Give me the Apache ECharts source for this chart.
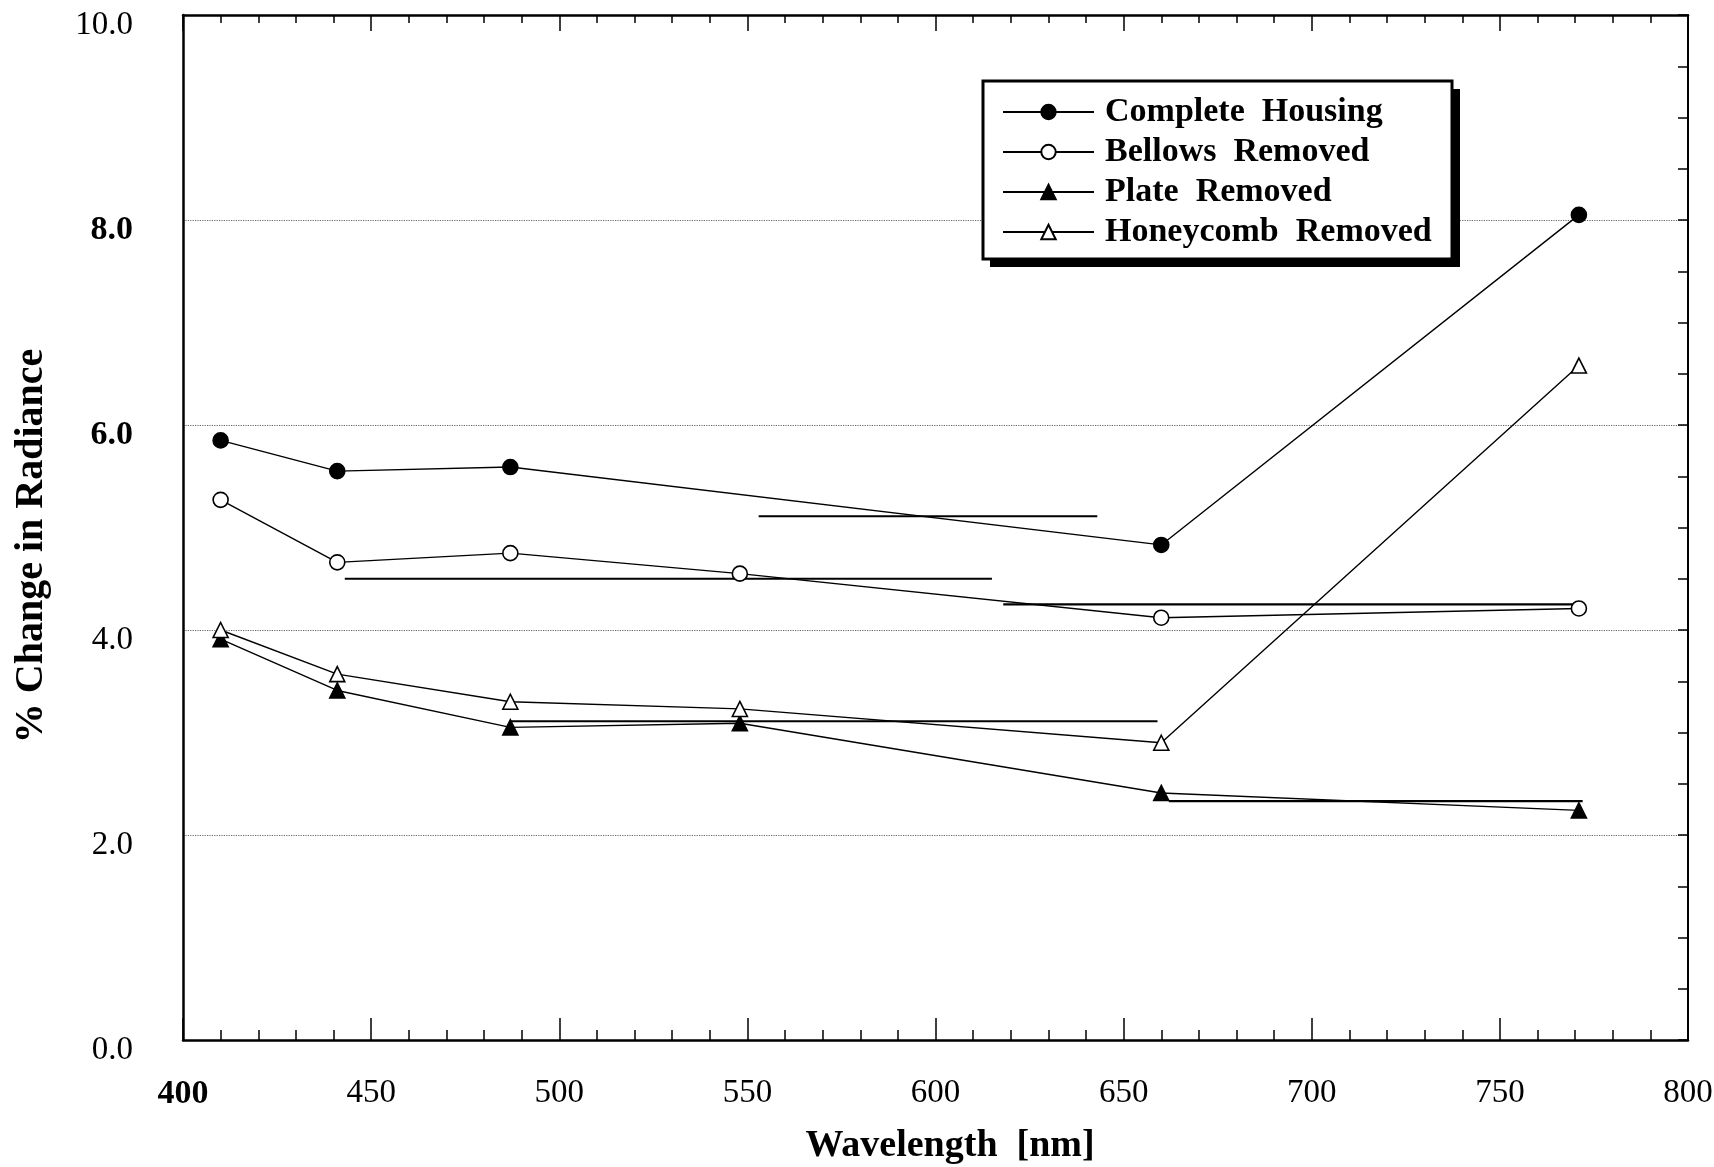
<!DOCTYPE html>
<html><head><meta charset="utf-8">
<script src="https://cdn.jsdelivr.net/npm/echarts@6/dist/echarts.min.js"></script>
<style>html,body{margin:0;padding:0;background:#fff}#c{width:1714px;height:1167px}</style>
</head><body><div id="c"></div>
<script>
const seriesNames = ['Complete Housing', 'Bellows Removed', 'Plate Removed', 'Honeycomb Removed'];
const completeHousing = [[410, 5.85], [441, 5.55], [487, 5.59], [660, 4.83], [771, 8.05]];
const bellowsRemoved = [[410, 5.27], [441, 4.66], [487, 4.75], [548, 4.55], [660, 4.12], [771, 4.21]];
const plateRemoved = [[410, 3.91], [441, 3.41], [487, 3.05], [548, 3.09], [660, 2.41], [771, 2.24]];
const honeycombRemoved = [[410, 4.00], [441, 3.57], [487, 3.30], [548, 3.23], [660, 2.90], [771, 6.58]];
// horizontal strokes visible in the scanned original: [fromNm, toNm, value]
const scanStrokes = [[553, 643, 5.11], [443, 615, 4.50], [618, 770, 4.25], [487, 659, 3.11], [662, 772, 2.33]];
const xTickLabels = ['400', '450', '500', '550', '600', '650', '700', '750', '800'];
const boldXTicks = ['400'];
const yTickLabels = ['0.0', '2.0', '4.0', '6.0', '8.0', '10.0'];
const boldYTicks = ['8.0', '6.0'];

const FF = '"Liberation Serif", "DejaVu Serif", serif';
const chart = echarts.init(document.getElementById('c'), null, {renderer: 'canvas'});

function mkSeries(name, data, symbol, filled) {
  return {
    type: 'line', name: name, data: data, symbol: symbol, symbolSize: 15,
    showAllSymbol: true, animation: false, z: 3,
    lineStyle: {color: '#000', width: 1.4},
    itemStyle: {color: filled ? '#000' : '#fff', borderColor: '#000', borderWidth: 1.6},
    emphasis: {disabled: true}
  };
}
const series = [
  mkSeries(seriesNames[0], completeHousing, 'circle', true),
  mkSeries(seriesNames[1], bellowsRemoved, 'circle', false),
  mkSeries(seriesNames[2], plateRemoved, 'triangle', true),
  mkSeries(seriesNames[3], honeycombRemoved, 'triangle', false)
];
scanStrokes.forEach(s => series.push({
  type: 'line', data: [[s[0], s[2]], [s[1], s[2]]], symbol: 'none', silent: true, z: 2,
  lineStyle: {color: '#000', width: 2.2}, animation: false
}));

const xFmt = v => {
  const i = Math.round((v - 400) / 50);
  const s = xTickLabels[i];
  if (s === undefined) return '';
  return boldXTicks.includes(s) ? '{b|' + s + '}' : '{r|' + s + '}';
};
const yFmt = v => {
  const i = Math.round(v / 2);
  const s = yTickLabels[i];
  if (s === undefined) return '';
  return boldYTicks.includes(s) ? '{b|' + s + '}' : '{r|' + s + '}';
};
const rich = {
  r: {fontFamily: FF, fontSize: 33, color: '#000'},
  b: {fontFamily: FF, fontSize: 34, fontWeight: 'bold', color: '#000'}
};

chart.setOption({
  backgroundColor: '#fff',
  animation: false,
  grid: {left: 183, right: 26, top: 15, bottom: 127, containLabel: false, outerBoundsMode: 'none'},
  xAxis: [
    {type: 'value', min: 400, max: 800, interval: 50, position: 'bottom',
      axisLine: {show: true, onZero: false, lineStyle: {color: '#000', width: 2.5}},
      axisTick: {show: true, inside: true, length: 22, lineStyle: {color: '#000', width: 1.5}},
      minorTick: {show: true, splitNumber: 5, length: 10, lineStyle: {color: '#000', width: 1.5}},
      splitLine: {show: false},
      axisLabel: {margin: 37, formatter: xFmt, rich: rich}},
    {type: 'value', min: 400, max: 800, interval: 50, position: 'top',
      axisLine: {show: true, onZero: false, lineStyle: {color: '#000', width: 2.5}},
      axisTick: {show: true, inside: true, length: 16, lineStyle: {color: '#000', width: 1.5}},
      minorTick: {show: true, splitNumber: 5, length: 8, lineStyle: {color: '#000', width: 1.5}},
      splitLine: {show: false}, axisLabel: {show: false}}
  ],
  yAxis: [
    {type: 'value', min: 0, max: 10, interval: 2, position: 'left',
      axisLine: {show: true, onZero: false, lineStyle: {color: '#000', width: 2.5}},
      axisTick: {show: false},
      splitLine: {show: true, lineStyle: {color: '#666', width: 1.2, type: 'dotted'}},
      axisLabel: {margin: 50, padding: [20, 0, 0, 0], formatter: yFmt, rich: rich}},
    {type: 'value', min: 0, max: 10, interval: 0.5, position: 'right',
      axisLine: {show: true, onZero: false, lineStyle: {color: '#000', width: 2}},
      axisTick: {show: true, inside: true, length: 10, lineStyle: {color: '#000', width: 1.5}},
      splitLine: {show: false}, axisLabel: {show: false}}
  ],
  legend: {
    data: seriesNames, orient: 'vertical', left: 1002, top: 94, padding: 0,
    itemWidth: 91, itemHeight: 18, itemGap: 4, selectedMode: false, z: 10,
    formatter: n => n.replace(' ', '  '),
    textStyle: {fontFamily: FF, fontWeight: 'bold', fontSize: 34, color: '#000', lineHeight: 36, padding: [0, 0, 0, 6]}
  },
  graphic: [
    {type: 'rect', z: 5, shape: {x: 990, y: 89, width: 470, height: 178}, style: {fill: '#000'}},
    {type: 'rect', z: 6, shape: {x: 983, y: 81, width: 469, height: 178}, style: {fill: '#fff', stroke: '#000', lineWidth: 3}},
    {type: 'text', z: 6, x: 950, y: 1146,
      style: {text: 'Wavelength  [nm]', font: 'bold 38px ' + FF, fill: '#000', align: 'center', verticalAlign: 'middle'}},
    {type: 'text', z: 6, x: 32, y: 546, rotation: Math.PI / 2,
      style: {text: '% Change in Radiance', font: 'bold 40px ' + FF, fill: '#000', align: 'center', verticalAlign: 'middle'}}
  ],
  series: series
});
</script></body></html>
